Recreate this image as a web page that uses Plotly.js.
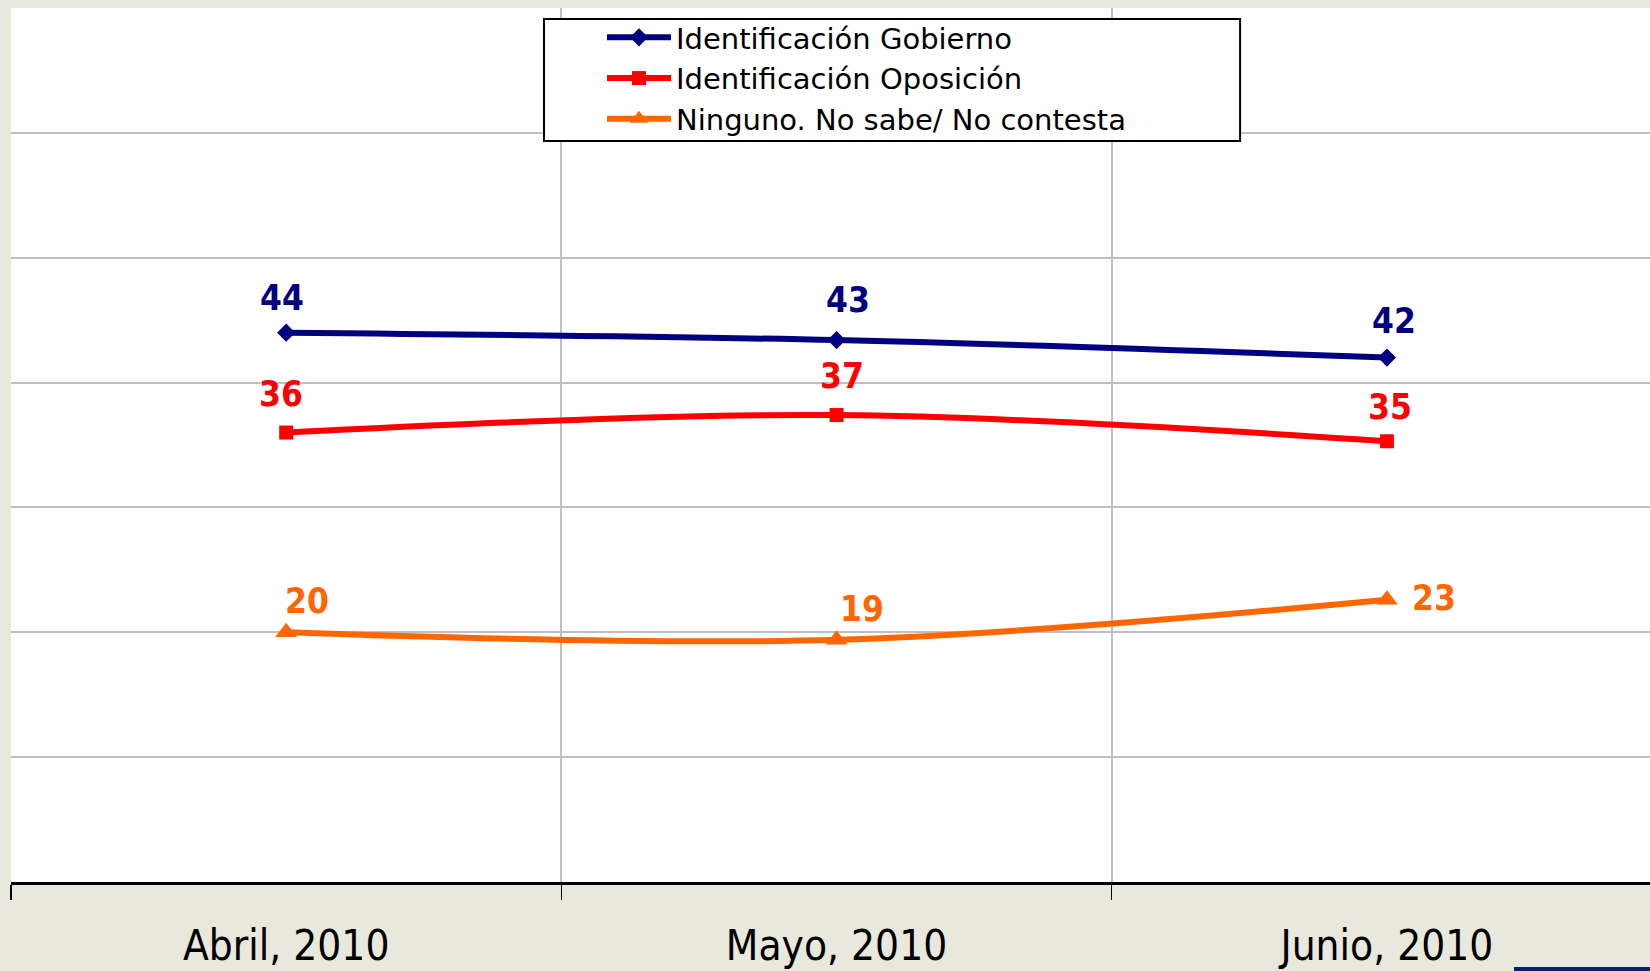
<!DOCTYPE html>
<html><head><meta charset="utf-8">
<script src="https://cdn.plot.ly/plotly-3.0.1.min.js"></script>
<style>html,body{margin:0;padding:0;background:#E8E8DC;} #chart{width:1650px;height:971px;}</style>
</head><body><div id="chart"></div>
<script>
const categories = ['Abril, 2010', 'Mayo, 2010', 'Junio, 2010'];
const seriesNames = ['Identificación Gobierno', 'Identificación Oposición', 'Ninguno. No sabe/ No contesta'];
const gobierno = [44.0, 43.4, 42.0];
const oposicion = [36.0, 37.4, 35.3];
const ninguno = [20.0, 19.4, 22.6];

const seriesValues = [gobierno, oposicion, ninguno];
const colors = ['#000080', '#FF0000', '#FF6600'];
const symbols = ['diamond', 'square', 'triangle-up'];
const markerSizes = [14, 14, 19];
// label offsets in px: [dx, up]
const labelOffsets = [
  [[-4, 35], [11, 40], [7, 37]],
  [[-5, 39], [5, 39], [3, 34]],
  [[21, 31], [25, 31], [47, 2]]
];

const tickFont = '"DejaVu Sans Condensed", "DejaVu Sans", sans-serif';
const legendFont = '"DejaVu Sans", sans-serif';

const traces = seriesValues.map((vals, i) => ({
  type: 'scatter',
  mode: 'lines+markers',
  name: seriesNames[i],
  x: categories,
  y: vals,
  line: {color: colors[i], width: 6, shape: 'spline', smoothing: 1},
  marker: {color: colors[i], symbol: symbols[i], size: markerSizes[i]},
  hoverinfo: 'skip'
}));

const annotations = [];
seriesValues.forEach((vals, i) => {
  vals.forEach((v, j) => {
    annotations.push({
      x: categories[j], y: v, xref: 'x', yref: 'y',
      text: String(Math.round(v)),
      showarrow: false,
      xshift: labelOffsets[i][j][0],
      yshift: labelOffsets[i][j][1],
      font: {family: tickFont, size: 35, color: colors[i], weight: 'bold'}
    });
  });
});

const layout = {
  width: 1650, height: 971,
  paper_bgcolor: '#E8E8DC',
  plot_bgcolor: '#FFFFFF',
  margin: {l: 11, r: 0, t: 8, b: 89, pad: 0},
  showlegend: true,
  xaxis: {
    type: 'category', range: [-0.5, 2.478], tickson: 'boundaries',
    showgrid: true, gridcolor: '#C0C0C0', gridwidth: 2,
    ticks: 'outside', ticklen: 15, tickwidth: 1.5, tickcolor: '#000000',
    showline: true, linecolor: '#000000', linewidth: 2.5,
    tickfont: {family: tickFont, size: 42, color: '#000000'},
    ticklabelstandoff: 25,
    zeroline: false, fixedrange: true
  },
  yaxis: {
    range: [0, 70], dtick: 10, tick0: 0,
    showgrid: true, gridcolor: '#C0C0C0', gridwidth: 2,
    showticklabels: false, ticks: '', zeroline: false, showline: false, fixedrange: true
  },
  legend: {
    x: 0.3252, y: 0.9954, xanchor: 'left', yanchor: 'top',
    bgcolor: 'rgba(0,0,0,0)', borderwidth: 0,
    font: {family: legendFont, size: 29, color: '#000000'},
    itemwidth: 64, indentation: 58, tracegroupgap: 0
  },
  shapes: [
    {type: 'rect', xref: 'paper', yref: 'paper', x0: 0.3252, x1: 0.7499, y0: 0.8478, y1: 0.9874,
     fillcolor: '#FFFFFF', line: {color: '#000000', width: 2}, layer: 'above'},
    {type: 'rect', xref: 'paper', yref: 'paper', x0: 0.917, x1: 1.0, y0: -0.1018, y1: -0.0973,
     fillcolor: '#0A2068', line: {width: 0}, layer: 'above'}
  ],
  annotations: annotations
};

Plotly.newPlot('chart', traces, layout, {displayModeBar: false, staticPlot: true});
</script>
</body></html>
